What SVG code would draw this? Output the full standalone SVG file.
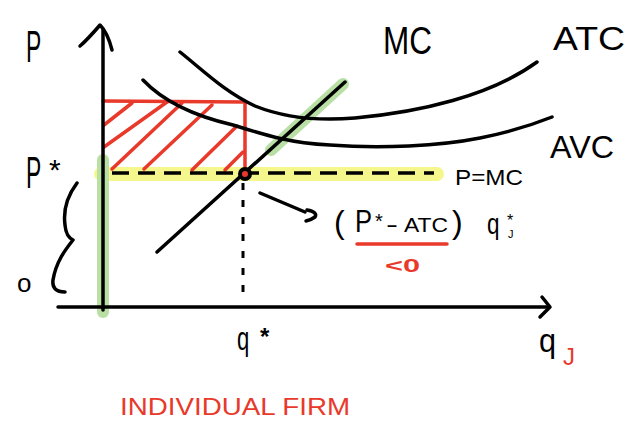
<svg xmlns="http://www.w3.org/2000/svg" width="639" height="434" viewBox="0 0 639 434">
<style>
.ink{fill:none;stroke:#000;stroke-width:3.5;stroke-linecap:round;stroke-linejoin:round}
.red{fill:none;stroke:#e8392b;stroke-width:3.5;stroke-linecap:round;stroke-linejoin:round}
.t{font-family:"Liberation Sans",Arial,sans-serif;fill:#000}
.tr{font-family:"Liberation Sans",Arial,sans-serif;fill:#e8392b}
.hlg{fill:none;stroke:#b9dfa5;stroke-width:12;stroke-linecap:round}
.hly{fill:none;stroke:#f5f78c;stroke-width:14;stroke-linecap:round}
</style>
<rect width="639" height="434" fill="#fff"/>
<g id="highlights">
<line class="hly" x1="101" y1="174" x2="437" y2="174"/>
<line class="hlg" x1="103" y1="160" x2="103" y2="312"/>
<line class="hlg" x1="271" y1="150" x2="343" y2="84"/>
</g>
<g id="loss-area">
<path class="red" d="M103,101 L245,102 L245,172"/>
<line class="red" x1="104" y1="125" x2="132" y2="103"/>
<line class="red" x1="104" y1="147" x2="167" y2="102"/>
<line class="red" x1="112" y1="169" x2="182" y2="103"/>
<line class="red" x1="144" y1="169" x2="212" y2="105"/>
<line class="red" x1="192" y1="170" x2="237" y2="126"/>
<line class="red" x1="225" y1="170" x2="243" y2="152"/>
</g>
<g id="axes">
<path class="ink" d="M103,30 L103,310"/>
<path class="ink" d="M80,46 C87,40 94,32 100,25 C105,30 109,38 112,50"/>
<path class="ink" d="M58,307 L548,307"/>
<path class="ink" d="M542,297 L550,307 L540,317"/>
</g>
<g id="curves">
<path class="ink" d="M180,52 C205,72 225,92 255,106 C285,118 320,121 355,118 C420,112 490,96 537,62"/>
<path class="ink" d="M143,80 C160,98 190,115 233,125 C265,135 290,143 330,145 C380,149 440,146 480,138 C510,132 532,125 552,117"/>
<line class="ink" x1="157" y1="252" x2="345" y2="82"/>
</g>
<g id="connectors">
<line x1="112" y1="173" x2="434" y2="173" stroke="#000" stroke-width="3.5" stroke-dasharray="17 9"/>
<line x1="243" y1="183" x2="243" y2="298" stroke="#000" stroke-width="3" stroke-dasharray="7 10"/>
<line class="ink" x1="260" y1="193" x2="305" y2="212"/>
<path class="ink" d="M307,210 Q318,212 315,217 Q311,220 306,221"/>
<path class="ink" d="M77,183 C68,195 63,210 65,225 C66,235 69,238 73,240 C65,250 56,262 53,280 C52,288 56,292 65,292"/>
</g>
<g id="equilibrium">
<circle cx="245" cy="174" r="5" fill="#e8392b" stroke="#000" stroke-width="4"/>
</g>
<g id="labels">
<text class="t" transform="translate(26,62) scale(0.52,1)" font-size="44">P</text>
<text class="t" transform="translate(26,188) scale(0.52,1)" font-size="44">P</text>
<text class="t" x="49" y="180" font-size="30">*</text>
<text class="t" x="17" y="292" font-size="26">o</text>
<text class="t" x="383" y="54" font-size="38" textLength="49" lengthAdjust="spacingAndGlyphs">MC</text>
<text class="t" x="553" y="50" font-size="34" textLength="72" lengthAdjust="spacingAndGlyphs">ATC</text>
<text class="t" x="550" y="158" font-size="32" textLength="64" lengthAdjust="spacingAndGlyphs">AVC</text>
<text class="t" x="455" y="185" font-size="22" textLength="68" lengthAdjust="spacingAndGlyphs">P=MC</text>
<text class="t" x="334" y="233" font-size="32">(</text>
<text class="t" transform="translate(355,232) scale(0.8,1)" font-size="32">P</text>
<text class="t" x="375" y="228" font-size="20">*</text>
<text class="t" x="386" y="232" font-size="22" textLength="12" lengthAdjust="spacingAndGlyphs">-</text>
<text class="t" x="404" y="232" font-size="20" textLength="44" lengthAdjust="spacingAndGlyphs">ATC</text>
<text class="t" x="452" y="233" font-size="32">)</text>
<text class="t" transform="translate(487,234) scale(0.75,1)" font-size="30">q</text>
<text class="t" x="507" y="226" font-size="16">*</text>
<text class="t" x="508" y="238" font-size="11">J</text>
<line class="red" x1="357" y1="244" x2="447" y2="244" stroke-width="4"/>
<text class="tr" x="385" y="272" font-size="18" font-weight="bold" textLength="35" lengthAdjust="spacingAndGlyphs">&lt;0</text>
<text class="t" transform="translate(237,350) scale(0.65,1)" font-size="34">q</text>
<text class="t" x="260" y="345" font-size="24" font-weight="bold">*</text>
<text class="t" transform="translate(539,352) scale(0.9,1)" font-size="34">q</text>
<text class="tr" x="563" y="365" font-size="24" textLength="12" lengthAdjust="spacingAndGlyphs">J</text>
<text class="tr" x="120" y="415" font-size="24" textLength="230" lengthAdjust="spacingAndGlyphs">INDIVIDUAL FIRM</text>
</g>
</svg>
